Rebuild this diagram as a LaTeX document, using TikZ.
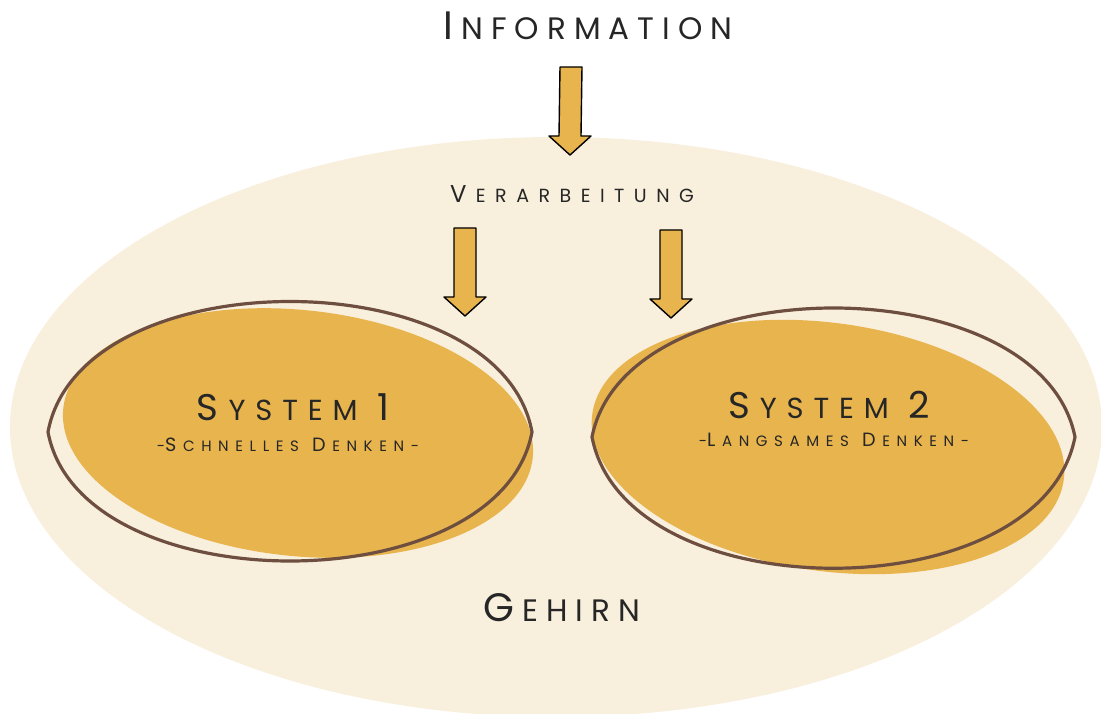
\documentclass[tikz,border=0pt]{standalone}
\usepackage{fontspec}
\setmainfont{Poppins}
\usetikzlibrary{positioning,calc}

\definecolor{brainbg}{HTML}{F9EFDD}
\definecolor{sysfill}{HTML}{E8B44E}
\definecolor{sysline}{HTML}{6E4F3F}
\definecolor{ink}{HTML}{262626}

% first letter of a word, a bit larger (small caps look)
\makeatletter
\newcommand{\Cap}[1]{{\@tempdima=1.28\dimexpr\f@size pt\relax
  \fontsize{\strip@pt\@tempdima}{\strip@pt\@tempdima}\selectfont#1}\kern\capgap}
\makeatother
\newcommand{\capgap}{0pt}
\newcommand{\wsp}{\kern\capgap\space\kern\capgap}
% block arrow from a top point to a tip
\newcommand{\blockarrow}[2]{%
  \draw[blockarr] ($(#1)+(-11,0)$) -- ($(#2)+(-11,-19)$) -- ($(#2)+(-21,-19)$) -- (#2)
    -- ($(#2)+(21,-19)$) -- ($(#2)+(11,-19)$) -- ($(#1)+(11,0)$) -- cycle;}
% font size and letter spacing
\newcommand{\spaced}[2]{\fontsize{#1}{#1}\addfontfeatures{LetterSpace=#2}%
  \edef\capgap{\the\dimexpr#1pt*#2/100\relax}}

\begin{document}
\begin{tikzpicture}[x=1pt,y=-1pt,
    blockarr/.style={fill=sysfill,draw=black,line width=1.4pt,line join=round},
    sysblob/.style={fill=sysfill},
    sysedge/.style={draw=sysline,line width=3.2pt,line join=round},
    title/.style={text=ink,anchor=base,inner sep=0pt,font=\spaced{31}{26}},
    subtitle/.style={text=ink,anchor=base,inner sep=0pt,font=\spaced{15}{44}}]
  \useasboundingbox (0,0) rectangle (1101,714);
  \clip (0,0) rectangle (1101,714);

  % brain
  \fill[brainbg] (556,427) ellipse [x radius=546, y radius=290];

  % system 1
  \fill[sysblob] (298,433) ellipse [x radius=236, y radius=123, rotate=-6];
  \draw[sysedge] (48,432) .. controls (80,258) and (500,258) .. (532,432)
    .. controls (500,604) and (80,604) .. cycle;
  % system 2
  \fill[sysblob] (828,447) ellipse [x radius=238, y radius=124, rotate=-8];
  \draw[sysedge] (592,437) .. controls (626,265) and (1041,265) .. (1075,437)
    .. controls (1041,612) and (626,612) .. cycle;

  % texts
  \node[title] (info) at (588,40) {\Cap{I}NFORMATION};
  \node[title,font=\spaced{19}{50}] (proc) at (572,203) {\Cap{V}ERARBEITUNG};
  \node[title,font=\spaced{29}{34}] (sys1) at (298,420) {\Cap{S}YSTEM\wsp\Cap{1}};
  \node[subtitle] (fast) at (288,451) {-\Cap{S}CHNELLES\wsp\Cap{D}ENKEN-};
  \node[title,font=\spaced{29}{34}] (sys2) at (834,418) {\Cap{S}YSTEM\wsp\Cap{2}};
  \node[subtitle] (slow) at (834,446) {-\Cap{L}ANGSAMES\wsp\Cap{D}ENKEN-};
  \node[title] (brain) at (562,621) {\Cap{G}EHIRN};

  % arrows
  \coordinate (info-out) at (571,67);
  \coordinate (proc-in) at (570,155);
  \coordinate (proc-l) at (465,228);
  \coordinate (sys1-in) at (465,316);
  \coordinate (proc-r) at (671,230);
  \coordinate (sys2-in) at (671,318);
  \blockarrow{info-out}{proc-in}
  \blockarrow{proc-l}{sys1-in}
  \blockarrow{proc-r}{sys2-in}
\end{tikzpicture}
\end{document}
